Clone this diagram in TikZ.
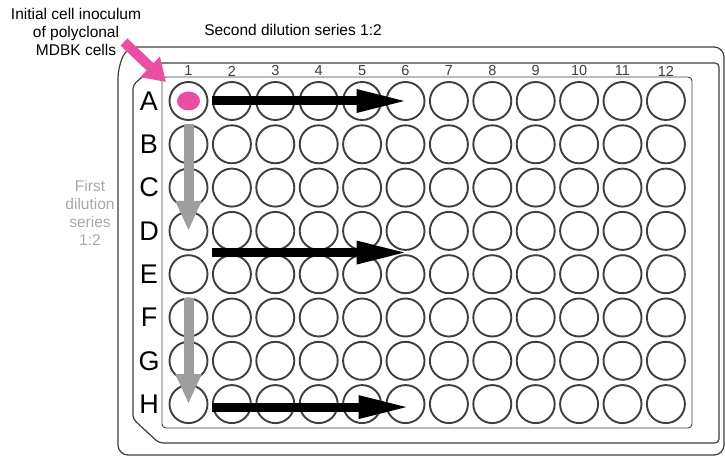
\documentclass[tikz,border=0pt]{standalone}
\usepackage{fontspec}
\setmainfont{Liberation Sans}
\usetikzlibrary{arrows.meta,calc}
\definecolor{inocpink}{RGB}{233,78,163}
\definecolor{seriesgray}{RGB}{160,157,157}
\definecolor{labelgray}{RGB}{168,168,168}
\definecolor{rimgray}{RGB}{62,62,62}

\begin{document}
\begin{tikzpicture}[
  x=1pt, y=-1pt,
  well/.style={circle, draw=rimgray, line width=1.9pt, minimum size=38pt, inner sep=0pt},
  rowlab/.style={font=\fontsize{27}{27}\selectfont, inner sep=0pt},
  collab/.style={font=\fontsize{14.5}{14.5}\selectfont, text=rimgray, inner sep=0pt},
  note/.style={font=\fontsize{15.5}{18}\selectfont, align=center, inner sep=0pt},
  outline/.style={draw=rimgray, line width=1.2pt, rounded corners=6pt},
  second/.style={line width=9pt, -{Triangle[length=52pt, width=21pt]}},
  first/.style={draw=seriesgray, line width=10pt, -{Triangle[length=30pt, width=24pt]}},
  inoc/.style={draw=inocpink, line width=10pt, -{Triangle[length=22pt, width=27pt]}}
]
\useasboundingbox (0,0) rectangle (725,457);

% plate outlines
\draw[outline, rounded corners=10pt] (118,68) -- (127,47) -- (724,47) -- (724,455) -- (118,455) -- cycle;
\draw[outline, rounded corners=4pt] (133,85) -- (158,63) -- (719,63) -- (719,443) -- (159,443) -- (133,419) -- cycle;
\draw[draw=rimgray, line width=0.9pt, rounded corners=4pt] (162,77) rectangle (692,428);

% wells, row and column labels
\foreach \r [count=\i] in {A,B,C,D,E,F,G,H} {
  \node[rowlab] (row-\r) at (149,{101+(\i-1)*43.3}) {\r};
  \foreach \c in {1,...,12}
    \node[well] (w-\r-\c) at ({188.5+(\c-1)*43.4},{101+(\i-1)*43.3}) {};
}
\foreach \c in {1,...,12}
  \node[collab] (col-\c) at ({188.5+(\c-1)*43.4},71) {\c};

\fill[inocpink] (w-A-1) ellipse [x radius=11.5, y radius=9.5];

% dilution arrows
\draw[first] (w-B-1.north) -- (w-D-1.center);
\draw[first] (w-F-1.north) -- (w-H-1.center);
\draw[second] (w-A-2.west) -- ([xshift=3pt]w-A-6.center);
\draw[second] ($(w-D-2.west)!.5!(w-E-2.west)$) -- ($(w-D-6)!.5!(w-E-6)+(3,0)$);
\draw[second] ([yshift=-3pt]w-H-2.west) -- ([xshift=5pt,yshift=-3pt]w-H-6.center);

% inoculum
\coordinate (inoc-tail) at (124,42);
\coordinate (inoc-tip) at (166,82);
\draw[inoc] (inoc-tail) -- (inoc-tip);

\node[note] (inoculum) at (76,32) {Initial cell inoculum\\of polyclonal\\MDBK cells};
\node[note] (second-lab) at (293,30) {Second dilution series 1:2};
\node[note, text=labelgray] (first-lab) at (90,213) {First\\dilution\\series\\1:2};
\end{tikzpicture}
\end{document}
